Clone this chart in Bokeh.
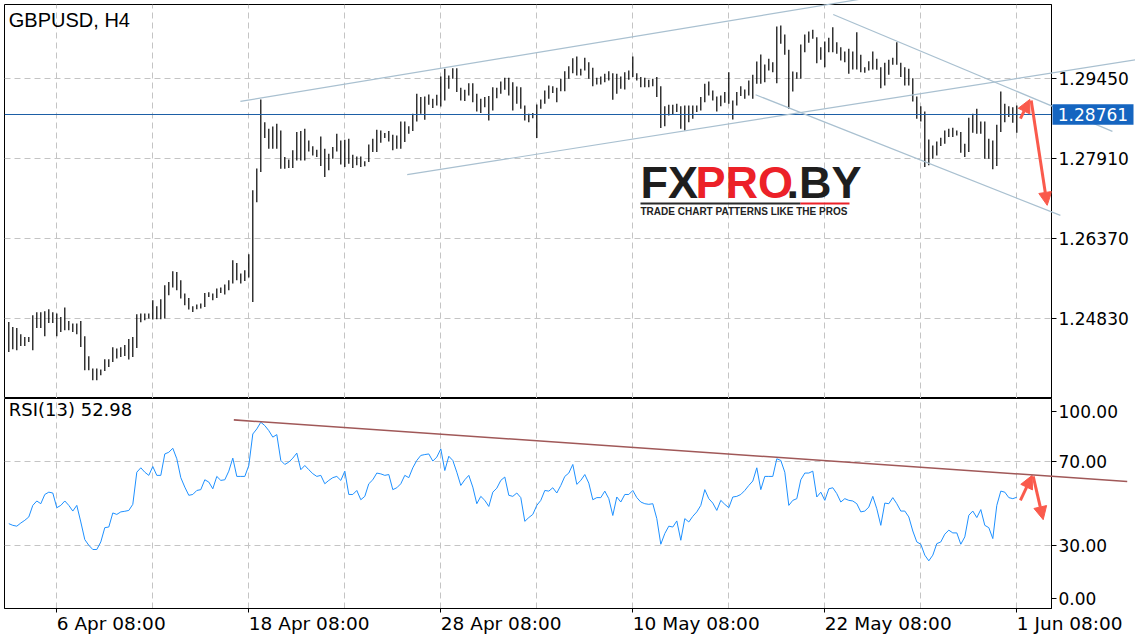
from bokeh.plotting import figure
from bokeh.layouts import column
from bokeh.models import (ColumnDataSource, FixedTicker, Label, Arrow, NormalHead,
                          BoxAnnotation, PrintfTickFormatter, Range1d)
from bokeh.core.properties import value
from bokeh.embed import file_html
from bokeh.resources import INLINE

# ---------------- data ----------------
symbol_title = "GBPUSD, H4"
rsi_title = "RSI(13) 52.98"
last_price = 1.28761

high = [1.24764, 1.24668, 1.24649, 1.24528, 1.24476, 1.24476, 1.24893, 1.24951, 1.24951, 1.24970,
        1.25009, 1.24951, 1.24926, 1.24861, 1.25042, 1.24784, 1.24734, 1.24734, 1.24784, 1.24489,
        1.24104, 1.23867, 1.23867, 1.23848, 1.24046, 1.24046, 1.24277, 1.24252, 1.24277, 1.24322,
        1.24437, 1.24476, 1.24913, 1.24926, 1.24926, 1.24926, 1.25182, 1.25067, 1.25201, 1.25471,
        1.25534, 1.25740, 1.25727, 1.25567, 1.25311, 1.25226, 1.25067, 1.25099, 1.25119, 1.25323,
        1.25336, 1.25311, 1.25407, 1.25427, 1.25484, 1.25567, 1.25952, 1.25900, 1.25696, 1.25760,
        1.26068, 1.27300, 1.27723, 1.29051, 1.28614, 1.28487, 1.28532, 1.28584, 1.28455, 1.27941,
        1.27896, 1.28070, 1.28422, 1.28441, 1.28487, 1.28262, 1.28147, 1.28083, 1.28339, 1.28102,
        1.28006, 1.28133, 1.28391, 1.28262, 1.28276, 1.28295, 1.27987, 1.27954, 1.27954, 1.27858,
        1.28185, 1.28295, 1.28468, 1.28455, 1.28403, 1.28441, 1.28372, 1.28358, 1.28628, 1.28628,
        1.28537, 1.28776, 1.29161, 1.29096, 1.29109, 1.29148, 1.29065, 1.29142, 1.29494, 1.29642,
        1.29513, 1.29654, 1.29654, 1.29277, 1.29238, 1.29365, 1.29365, 1.29161, 1.29065, 1.29096,
        1.29115, 1.29288, 1.29277, 1.29398, 1.29469, 1.29469, 1.29384, 1.29302, 1.29288, 1.28936,
        1.28776, 1.28788, 1.28955, 1.29051, 1.29225, 1.29321, 1.29307, 1.29277, 1.29450, 1.29596,
        1.29692, 1.29846, 1.29879, 1.29642, 1.29854, 1.29769, 1.29662, 1.29469, 1.29494, 1.29546,
        1.29596, 1.29558, 1.29546, 1.29494, 1.29577, 1.29610, 1.29879, 1.29558, 1.29481, 1.29469,
        1.29431, 1.29450, 1.29481, 1.29307, 1.28922, 1.28949, 1.28949, 1.28969, 1.28922, 1.28936,
        1.28936, 1.28936, 1.28936, 1.29096, 1.29354, 1.29398, 1.29225, 1.29109, 1.29128, 1.29192,
        1.29577, 1.29032, 1.29192, 1.29307, 1.29244, 1.29417, 1.29527, 1.29783, 1.29918, 1.29725,
        1.29835, 1.29769, 1.30457, 1.30476, 1.30303, 1.30008, 1.29590, 1.29577, 1.30110, 1.30303,
        1.30360, 1.30393, 1.30251, 1.30058, 1.30168, 1.30239, 1.30443, 1.30154, 1.30058, 1.29975,
        1.30027, 1.29975, 1.30347, 1.29912, 1.29673, 1.29789, 1.29975, 1.29835, 1.29673, 1.29758,
        1.29816, 1.29854, 1.30154, 1.29758, 1.29673, 1.29642, 1.29461, 1.29109, 1.28922, 1.28820,
        1.28281, 1.28166, 1.28243, 1.28314, 1.28455, 1.28487, 1.28507, 1.28455, 1.28422, 1.28199,
        1.28699, 1.28776, 1.28872, 1.28628, 1.28628, 1.28295, 1.28262, 1.28564, 1.29205, 1.28969,
        1.28922, 1.28903, 1.28936]

low = [1.24187, 1.24239, 1.24220, 1.24302, 1.24302, 1.24379, 1.24220, 1.24649, 1.24649, 1.24489,
       1.24745, 1.24745, 1.24489, 1.24572, 1.24605, 1.24605, 1.24572, 1.24528, 1.24283, 1.23835,
       1.23835, 1.23642, 1.23642, 1.23738, 1.23821, 1.23898, 1.23994, 1.24060, 1.24091, 1.24110,
       1.24041, 1.24091, 1.24264, 1.24759, 1.24797, 1.24830, 1.24811, 1.24816, 1.24816, 1.24830,
       1.25278, 1.25427, 1.25375, 1.25215, 1.25086, 1.25003, 1.24957, 1.25009, 1.25022, 1.25053,
       1.25246, 1.25182, 1.25226, 1.25323, 1.25292, 1.25375, 1.25504, 1.25567, 1.25504, 1.25554,
       1.25619, 1.25149, 1.27069, 1.27652, 1.28306, 1.28102, 1.28102, 1.28102, 1.27717, 1.27717,
       1.27729, 1.27729, 1.27877, 1.27877, 1.27877, 1.28050, 1.27973, 1.27941, 1.27767, 1.27556,
       1.27685, 1.27910, 1.28050, 1.27800, 1.27748, 1.27814, 1.27729, 1.27781, 1.27748, 1.27762,
       1.27844, 1.28037, 1.28037, 1.28218, 1.28306, 1.28243, 1.28070, 1.28102, 1.28102, 1.28229,
       1.28391, 1.28441, 1.28628, 1.28776, 1.28661, 1.28949, 1.28884, 1.28936, 1.28917, 1.29032,
       1.29257, 1.29450, 1.29192, 1.29032, 1.29019, 1.29128, 1.28999, 1.28820, 1.28788, 1.28903,
       1.28647, 1.28840, 1.29076, 1.29161, 1.29238, 1.29128, 1.28840, 1.28969, 1.28872, 1.28647,
       1.28614, 1.28691, 1.28306, 1.28872, 1.28969, 1.29065, 1.29173, 1.28999, 1.29211, 1.29211,
       1.29450, 1.29558, 1.29513, 1.29513, 1.29610, 1.29450, 1.29307, 1.29340, 1.29340, 1.29384,
       1.29417, 1.29046, 1.29161, 1.29257, 1.29244, 1.29431, 1.29481, 1.29417, 1.29288, 1.29288,
       1.29288, 1.29307, 1.29096, 1.28499, 1.28537, 1.28743, 1.28757, 1.28807, 1.28487, 1.28455,
       1.28614, 1.28680, 1.28807, 1.28840, 1.28999, 1.29128, 1.29032, 1.28820, 1.28922, 1.28988,
       1.28969, 1.28666, 1.28936, 1.29115, 1.29065, 1.29128, 1.29065, 1.29354, 1.29354, 1.29384,
       1.29610, 1.29577, 1.29365, 1.30124, 1.29912, 1.28872, 1.29205, 1.29450, 1.29450, 1.29962,
       1.30143, 1.30220, 1.29750, 1.29816, 1.29673, 1.29962, 1.29962, 1.29931, 1.29802, 1.29769,
       1.29546, 1.29629, 1.29629, 1.29577, 1.29565, 1.29610, 1.29629, 1.29623, 1.29269, 1.29321,
       1.29527, 1.29719, 1.29719, 1.29481, 1.29321, 1.29321, 1.29013, 1.28680, 1.28628, 1.27748,
       1.27781, 1.27910, 1.27973, 1.28152, 1.28199, 1.28326, 1.28326, 1.28358, 1.28025, 1.27941,
       1.28037, 1.28410, 1.28391, 1.28391, 1.27910, 1.27910, 1.27704, 1.27767, 1.28422, 1.28614,
       1.28711, 1.28603, 1.28410]

rsi = [40.4, 39.6, 39.2, 40.7, 42.0, 43.6, 49.1, 51.2, 49.9, 54.3,
       55.4, 55.0, 48.0, 49.1, 51.2, 49.1, 46.4, 49.1, 41.2, 32.8,
       30.1, 28.1, 28.1, 31.7, 38.5, 38.8, 45.5, 44.8, 46.0, 46.3,
       46.7, 49.6, 64.9, 67.0, 64.9, 63.4, 67.6, 63.4, 63.4, 73.6,
       74.4, 76.3, 71.3, 62.3, 57.8, 53.9, 54.3, 56.2, 56.6, 61.3,
       60.2, 57.0, 62.9, 61.0, 61.3, 65.4, 71.6, 62.9, 62.9, 62.9,
       68.1, 83.1, 85.5, 88.7, 87.1, 84.7, 81.6, 82.8, 70.5, 68.6,
       69.7, 71.6, 74.0, 66.1, 68.1, 66.1, 64.2, 62.9, 63.4, 59.4,
       61.0, 62.3, 62.9, 61.0, 65.4, 54.3, 54.3, 56.2, 51.8, 53.4,
       59.4, 61.3, 64.5,
       64.1, 63.4, 63.8, 56.6, 57.5, 59.4, 63.4, 62.3, 67.0, 70.5,
       72.9, 73.3, 73.6, 70.2, 72.1, 76.0, 65.7, 72.5, 70.5, 64.9,
       58.6, 61.3, 63.4, 57.8, 49.9, 53.4, 51.5, 48.6, 55.4, 57.3,
       61.0, 62.6, 53.9, 53.4, 55.0, 52.8, 41.5, 43.3, 44.8, 49.1,
       51.5, 56.2, 55.9, 57.5, 55.0, 58.6, 62.9, 64.5, 68.6, 59.1,
       61.0, 63.8, 59.7, 51.8, 52.8, 52.8, 55.9, 52.3, 44.3, 53.1,
       50.7, 54.3, 54.3, 56.2, 52.8, 50.7, 49.9, 49.6, 49.9, 42.8,
       30.6, 35.7, 39.2, 38.8, 41.7, 32.5, 42.8, 41.2, 43.9, 46.0,
       49.1, 56.6, 52.3, 50.2, 46.7, 51.5, 49.6, 48.0, 53.1, 53.4,
       54.3, 56.2, 58.6, 60.7, 67.0,
       56.6, 62.9, 62.9, 62.9, 71.3, 70.5, 64.9, 49.1, 51.5, 52.3,
       61.3, 64.5, 64.5, 65.4, 53.1, 55.4, 51.5, 57.0, 57.5, 54.7,
       50.7, 52.3, 51.5, 51.2, 49.9, 46.0, 46.4, 48.3, 53.4, 47.5,
       39.6, 50.2, 49.9, 52.8, 49.9, 46.4, 46.4, 43.6, 36.9, 31.7,
       30.6, 25.4, 22.7, 25.4, 30.9, 31.7, 35.4, 37.3, 36.0, 36.0,
       30.6, 34.1, 44.4, 46.4, 43.3, 47.1, 39.6, 38.5, 33.3, 49.1,
       55.9, 55.4, 52.8, 52.3, 52.98]

bar_index = list(range(len(high)))

price_ticks = [1.24830, 1.26370, 1.27910, 1.29450]
date_tick_bars = [12, 60, 108, 156, 204, 252]
date_tick_labels = ["6 Apr 08:00", "18 Apr 08:00", "28 Apr 08:00",
                    "10 May 08:00", "22 May 08:00", "1 Jun 08:00"]
grid_bars = [12, 36, 60, 84, 108, 132, 156, 180, 204, 228, 252]
rsi_levels = [30, 70]
rsi_tick_labels = ["0.00", "30.00", "70.00", "100.00"]

# drawn objects (bar index, value)
trend_x0 = [57.9, 99.6, 206.1, 186.7]
trend_y0 = [1.29013, 1.27602, 1.30688, 1.29142]
trend_x1 = [288.0, 282.0, 275.9, 262.9]
trend_y1 = [1.31937, 1.29820, 1.28436, 1.26818]
rsi_trend_x = [56.25, 279.6]
rsi_trend_y = [89.8, 60.5]
price_arrows = [(252.9, 1.28680, 255.25, 1.29051), (255.6, 1.29032, 259.6, 1.27011)]
rsi_arrows = [(252.9, 51.5, 255.85, 63.4), (256.1, 62.9, 258.6, 42.3)]

# ---------------- layout constants ----------------
LEFT = 4
TOP = 4
FRAME_W = 1047
MAIN_H = 394
RSI_H = 210
RIGHT_W = 84
RSI_BOTTOM = 30
PX_PER_BAR = 4.0
X0 = -1.075
X_RANGE = (X0, X0 + FRAME_W / PX_PER_BAR)
PRICE_RANGE = (1.23290, 1.30880)
PRICE_PER_PX = (PRICE_RANGE[1] - PRICE_RANGE[0]) / MAIN_H
RSI_PER_PX = 100.0 / RSI_H
AXIS_FONT = "DejaVu Sans"
GRID_COLOR = "#c4c4c4"
GRID_DASH = "6 4"
RED = "#fa5a4c"
TREND_COLOR = "#a9c0d0"
RSI_TREND_COLOR = "#a05858"
TAG_COLOR = "#1565c0"
rsi_label_pos = [5.0, 30, 70, 94.0]
DATE_LABEL_DY_PX = 14.5          # centre of the date labels below the RSI frame
# price tag geometry (pixels right of the frame edge)
TAG_LEFT_PX, TAG_W_PX, TAG_H_PX, TAG_TEXT_PX = 1.0, 81.0, 20.7, 5.3


def base_fig(height, y_range, top, bottom):
    p = figure(frame_width=FRAME_W, frame_height=height,
               x_range=Range1d(*X_RANGE), y_range=Range1d(*y_range),
               toolbar_location=None, tools="", output_backend="svg",
               y_axis_location="right",
               min_border_left=LEFT, min_border_top=top, min_border_right=RIGHT_W,
               min_border_bottom=bottom)
    p.outline_line_color = "black"
    p.outline_line_width = 1
    p.background_fill_color = "white"
    p.border_fill_color = "white"
    p.xgrid.ticker = FixedTicker(ticks=grid_bars)
    p.xgrid.grid_line_color = GRID_COLOR
    p.xgrid.grid_line_dash = GRID_DASH
    p.ygrid.grid_line_color = GRID_COLOR
    p.ygrid.grid_line_dash = GRID_DASH
    ax = p.yaxis[0]
    ax.axis_line_color = "black"
    ax.major_tick_line_color = "black"
    ax.major_tick_in = 0
    ax.major_tick_out = 5
    ax.minor_tick_line_color = None
    ax.major_label_standoff = 2
    ax.major_label_text_font = AXIS_FONT
    ax.major_label_text_font_size = "17px"
    ax.major_label_text_color = "black"
    return p


# ---------------- price panel ----------------
p1 = base_fig(MAIN_H, PRICE_RANGE, TOP, 0)
p1.xaxis.visible = False
p1.yaxis[0].ticker = FixedTicker(ticks=price_ticks)
p1.yaxis[0].formatter = PrintfTickFormatter(format="%.5f")
p1.ygrid.ticker = FixedTicker(ticks=price_ticks)

src = ColumnDataSource(dict(x=bar_index, high=high, low=low))
p1.segment(x0="x", y0="low", x1="x", y1="high", source=src,
           line_color="black", line_width=1.2)

p1.segment(x0=[X_RANGE[0]], y0=[last_price], x1=[X_RANGE[1]], y1=[last_price],
           line_color="#1d5fa6", line_width=1.2)

# trend lines may run over the price scale, as in the terminal
p1.segment(x0=trend_x0, y0=trend_y0, x1=trend_x1, y1=trend_y1,
           line_color=TREND_COLOR, line_width=1.2, level="overlay")

# last-price tag on the price scale
tag_left = X_RANGE[1] + TAG_LEFT_PX / PX_PER_BAR
p1.rect(x=[tag_left + TAG_W_PX / PX_PER_BAR / 2], y=[last_price],
        width=TAG_W_PX / PX_PER_BAR, height=TAG_H_PX * PRICE_PER_PX,
        fill_color=TAG_COLOR, line_color=None, level="overlay")
p1.text(x=[tag_left + TAG_TEXT_PX / PX_PER_BAR], y=[last_price], text=[f"{last_price:.5f}"],
        text_color="white", text_font=value(AXIS_FONT), text_font_size="17px",
        text_baseline="middle", text_align="left", level="overlay")

for (xs, ys, xe, ye) in price_arrows:
    p1.add_layout(Arrow(x_start=xs, y_start=ys, x_end=xe, y_end=ye,
                        line_color=RED, line_width=3,
                        end=NormalHead(size=13, fill_color=RED, line_color=RED)))

p1.add_layout(Label(x=4.3, y=MAIN_H - 15.2, x_units="screen", y_units="screen",
                    text=symbol_title, text_font="Liberation Sans",
                    text_font_size="20px", text_color="black",
                    text_baseline="middle"))

# watermark logo
logo_y = MAIN_H - 178.0
for txt, lx, col in [("FX", 636, "#1e1e1e"), ("PRO", 691, "#ec2128"), (".BY", 782, "#1e1e1e")]:
    p1.add_layout(Label(x=lx, y=logo_y, x_units="screen", y_units="screen", text=txt,
                        text_font="Liberation Sans", text_font_style="bold",
                        text_font_size="45px", text_color=col, text_baseline="middle"))
for bl, br, bc in [(636, 796, "#2a2a2a"), (796, 845, "#ec2128")]:
    p1.add_layout(BoxAnnotation(left=bl, right=br, top=MAIN_H - 198.0, bottom=MAIN_H - 200.0,
                                left_units="screen", right_units="screen",
                                top_units="screen", bottom_units="screen",
                                fill_color=bc, fill_alpha=1, line_color=None))
p1.add_layout(Label(x=636, y=MAIN_H - 207.0, x_units="screen", y_units="screen",
                    text="TRADE CHART PATTERNS LIKE THE PROS",
                    text_font="Liberation Sans", text_font_style="bold",
                    text_font_size="10px", text_color="#222222", text_baseline="middle"))

# ---------------- RSI panel ----------------
p2 = base_fig(RSI_H, (0, 100), 0, RSI_BOTTOM)
p2.ygrid.ticker = FixedTicker(ticks=rsi_levels)
p2.yaxis[0].ticker = FixedTicker(ticks=rsi_label_pos)
p2.yaxis[0].major_label_overrides = {k: v for k, v in zip(rsi_label_pos, rsi_tick_labels)}

# time scale: tick marks on the axis, each date written starting at its tick (terminal style)
xa = p2.xaxis[0]
xa.ticker = FixedTicker(ticks=[], minor_ticks=date_tick_bars)
xa.axis_line_color = "black"
xa.major_tick_line_color = None
xa.minor_tick_line_color = "black"
xa.minor_tick_in = 0
xa.minor_tick_out = 4
xa.major_label_text_font_size = "18px"
p2.text(x=date_tick_bars, y=[-DATE_LABEL_DY_PX * RSI_PER_PX] * len(date_tick_bars),
        text=date_tick_labels, text_align="left", text_baseline="middle",
        text_font=value(AXIS_FONT), text_font_size="18.5px", text_color="black",
        level="overlay")

p2.line(bar_index, rsi, line_color="#1e90ff", line_width=1)
p2.line(rsi_trend_x, rsi_trend_y, line_color=RSI_TREND_COLOR, line_width=1.6, level="overlay")
for (xs, ys, xe, ye) in rsi_arrows:
    p2.add_layout(Arrow(x_start=xs, y_start=ys, x_end=xe, y_end=ye,
                        line_color=RED, line_width=3,
                        end=NormalHead(size=13, fill_color=RED, line_color=RED)))
p2.add_layout(Label(x=4.3, y=RSI_H - 11.4, x_units="screen", y_units="screen",
                    text=rsi_title, text_font=AXIS_FONT, text_font_size="18px",
                    text_color="black", text_baseline="middle"))

layout = column(p1, p2, spacing=0)

open("out.html", "w").write(file_html(layout, INLINE))
